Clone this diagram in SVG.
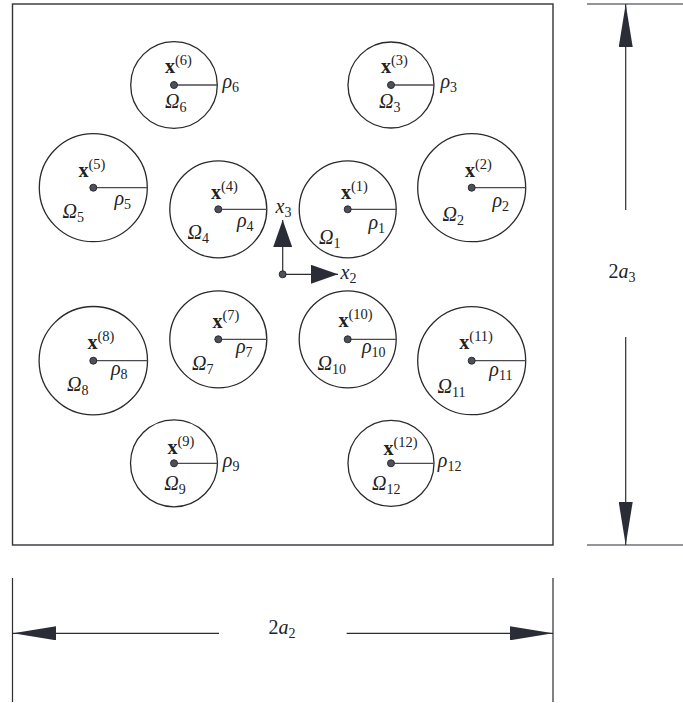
<svg xmlns="http://www.w3.org/2000/svg" width="683" height="703" viewBox="0 0 683 703">
<style>
.c{fill:none;stroke:#2a2a2e;stroke-width:1.3}
.r{stroke:#4a4a50;stroke-width:1.3}
.d{fill:#4d5058;stroke:#2b2d33;stroke-width:1}
.fr{fill:none;stroke:#333338;stroke-width:1.4}
.ln{stroke:#2b2d33;stroke-width:1.2;fill:none}
.t{font-family:"Liberation Serif","DejaVu Serif",serif;font-size:20px;fill:#222}
.i{font-style:italic}
.b{font-weight:bold}
.sp{font-size:14.5px;font-style:normal;font-weight:normal}
.sb{font-size:14px;font-style:normal}
</style>
<defs>
<marker id="ax" markerUnits="userSpaceOnUse" markerWidth="27" markerHeight="19" viewBox="0 0 27 19" refX="27" refY="9.5" orient="auto"><path d="M0,0 L27,9.5 L0,19 Z" fill="#2b2d36"/></marker>
<marker id="dm" markerUnits="userSpaceOnUse" markerWidth="43" markerHeight="14" viewBox="0 0 43 14" refX="43" refY="7" orient="auto"><path d="M0,0 L43,7 L0,14 Z" fill="#2b2d36"/></marker>
</defs>
<rect id="domain" class="fr" x="12.5" y="4" width="540.5" height="541"/>

<g id="n1"><circle class="c" cx="347.7" cy="209.3" r="48.5"/><line class="r" x1="347.7" y1="209.3" x2="396.2" y2="209.3"/><circle class="d" cx="347.7" cy="209.3" r="3.5"/>
<text class="t" x="341" y="199"><tspan class="b">x</tspan><tspan class="sp" dy="-8">(1)</tspan></text>
<text class="t i" x="368.5" y="229">ρ<tspan class="sb" dy="4">1</tspan></text>
<text class="t i" x="319" y="244">Ω<tspan class="sb" dy="4">1</tspan></text></g>

<g id="n2"><circle class="c" cx="471.7" cy="187.7" r="54"/><line class="r" x1="471.7" y1="187.7" x2="525.7" y2="187.7"/><circle class="d" cx="471.7" cy="187.7" r="3.5"/>
<text class="t" x="465" y="176.7"><tspan class="b">x</tspan><tspan class="sp" dy="-8">(2)</tspan></text>
<text class="t i" x="492.5" y="207">ρ<tspan class="sb" dy="4">2</tspan></text>
<text class="t i" x="442.5" y="221">Ω<tspan class="sb" dy="4">2</tspan></text></g>

<g id="n3"><circle class="c" cx="391" cy="85" r="43"/><line class="r" x1="391" y1="85" x2="434" y2="85"/><circle class="d" cx="391" cy="85" r="3.5"/>
<text class="t" x="381" y="72.7"><tspan class="b">x</tspan><tspan class="sp" dy="-8">(3)</tspan></text>
<text class="t i" x="440.5" y="88">ρ<tspan class="sb" dy="4">3</tspan></text>
<text class="t i" x="379" y="108">Ω<tspan class="sb" dy="4">3</tspan></text></g>

<g id="n4"><circle class="c" cx="218.3" cy="209.3" r="48.5"/><line class="r" x1="218.3" y1="209.3" x2="266.8" y2="209.3"/><circle class="d" cx="218.3" cy="209.3" r="3.5"/>
<text class="t" x="211" y="199"><tspan class="b">x</tspan><tspan class="sp" dy="-8">(4)</tspan></text>
<text class="t i" x="237" y="227">ρ<tspan class="sb" dy="4">4</tspan></text>
<text class="t i" x="187.5" y="239">Ω<tspan class="sb" dy="4">4</tspan></text></g>

<g id="n5"><circle class="c" cx="93.3" cy="187.7" r="54"/><line class="r" x1="93.3" y1="187.7" x2="147.3" y2="187.7"/><circle class="d" cx="93.3" cy="187.7" r="3.5"/>
<text class="t" x="78.5" y="176.7"><tspan class="b">x</tspan><tspan class="sp" dy="-8">(5)</tspan></text>
<text class="t i" x="114.5" y="205">ρ<tspan class="sb" dy="4">5</tspan></text>
<text class="t i" x="62.5" y="218">Ω<tspan class="sb" dy="4">5</tspan></text></g>

<g id="n6"><circle class="c" cx="174" cy="85" r="43.3"/><line class="r" x1="174" y1="85" x2="217.3" y2="85"/><circle class="d" cx="174" cy="85" r="3.5"/>
<text class="t" x="165" y="72.7"><tspan class="b">x</tspan><tspan class="sp" dy="-8">(6)</tspan></text>
<text class="t i" x="222.5" y="88">ρ<tspan class="sb" dy="4">6</tspan></text>
<text class="t i" x="165" y="108">Ω<tspan class="sb" dy="4">6</tspan></text></g>

<g id="n7"><circle class="c" cx="218.3" cy="339.3" r="48.5"/><line class="r" x1="218.3" y1="339.3" x2="266.8" y2="339.3"/><circle class="d" cx="218.3" cy="339.3" r="3.5"/>
<text class="t" x="212.5" y="328.3"><tspan class="b">x</tspan><tspan class="sp" dy="-8">(7)</tspan></text>
<text class="t i" x="236" y="353">ρ<tspan class="sb" dy="4">7</tspan></text>
<text class="t i" x="192" y="369.5">Ω<tspan class="sb" dy="4">7</tspan></text></g>

<g id="n8"><circle class="c" cx="93.3" cy="360.7" r="54.2"/><line class="r" x1="93.3" y1="360.7" x2="147.5" y2="360.7"/><circle class="d" cx="93.3" cy="360.7" r="3.5"/>
<text class="t" x="87.5" y="349.3"><tspan class="b">x</tspan><tspan class="sp" dy="-8">(8)</tspan></text>
<text class="t i" x="111" y="375">ρ<tspan class="sb" dy="4">8</tspan></text>
<text class="t i" x="67" y="391">Ω<tspan class="sb" dy="4">8</tspan></text></g>

<g id="n9"><circle class="c" cx="174" cy="463.3" r="43.5"/><line class="r" x1="174" y1="463.3" x2="217.5" y2="463.3"/><circle class="d" cx="174" cy="463.3" r="3.5"/>
<text class="t" x="167.5" y="454.3"><tspan class="b">x</tspan><tspan class="sp" dy="-8">(9)</tspan></text>
<text class="t i" x="222.8" y="467">ρ<tspan class="sb" dy="4">9</tspan></text>
<text class="t i" x="164.3" y="489.5">Ω<tspan class="sb" dy="4">9</tspan></text></g>

<g id="n10"><circle class="c" cx="347.7" cy="339.3" r="48.5"/><line class="r" x1="347.7" y1="339.3" x2="396.2" y2="339.3"/><circle class="d" cx="347.7" cy="339.3" r="3.5"/>
<text class="t" x="338.5" y="326.7"><tspan class="b">x</tspan><tspan class="sp" dy="-8">(10)</tspan></text>
<text class="t i" x="362" y="353">ρ<tspan class="sb" dy="4">10</tspan></text>
<text class="t i" x="317.5" y="369.5">Ω<tspan class="sb" dy="4">10</tspan></text></g>

<g id="n11"><circle class="c" cx="471.7" cy="360.7" r="54"/><line class="r" x1="471.7" y1="360.7" x2="525.7" y2="360.7"/><circle class="d" cx="471.7" cy="360.7" r="3.5"/>
<text class="t" x="459.3" y="349.3"><tspan class="b">x</tspan><tspan class="sp" dy="-8">(11)</tspan></text>
<text class="t i" x="489.3" y="376">ρ<tspan class="sb" dy="4">11</tspan></text>
<text class="t i" x="437.5" y="393">Ω<tspan class="sb" dy="4">11</tspan></text></g>

<g id="n12"><circle class="c" cx="391" cy="463.3" r="43"/><line class="r" x1="391" y1="463.3" x2="434" y2="463.3"/><circle class="d" cx="391" cy="463.3" r="3.5"/>
<text class="t" x="383.5" y="455"><tspan class="b">x</tspan><tspan class="sp" dy="-8">(12)</tspan></text>
<text class="t i" x="437.8" y="467">ρ<tspan class="sb" dy="4">12</tspan></text>
<text class="t i" x="372" y="489.5">Ω<tspan class="sb" dy="4">12</tspan></text></g>

<g id="connectors">
<line class="ln" x1="282.7" y1="274.3" x2="282.7" y2="220" marker-end="url(#ax)"/>
<line class="ln" x1="282.7" y1="274.3" x2="338" y2="274.3" marker-end="url(#ax)"/>
<circle class="d" cx="282.7" cy="274.3" r="3.5"/>
<line class="ln" x1="587" y1="4" x2="683" y2="4"/>
<line class="ln" x1="587" y1="545" x2="683" y2="545"/>
<line class="ln" x1="625.7" y1="210" x2="625.7" y2="4" marker-end="url(#dm)"/>
<line class="ln" x1="625.7" y1="337" x2="625.7" y2="545" marker-end="url(#dm)"/>
<line class="ln" x1="12.5" y1="578" x2="12.5" y2="702"/>
<line class="ln" x1="553" y1="578" x2="553" y2="702"/>
<line class="ln" x1="219" y1="633.3" x2="13" y2="633.3" marker-end="url(#dm)"/>
<line class="ln" x1="346.7" y1="633.3" x2="553" y2="633.3" marker-end="url(#dm)"/>
</g>

<g id="labels">
<text class="t i" x="275.5" y="213">x<tspan class="sb" dy="4">3</tspan></text>
<text class="t i" x="340.5" y="279">x<tspan class="sb" dy="4">2</tspan></text>
<text class="t" x="608.5" y="278">2<tspan class="i">a</tspan><tspan class="sb" dy="4">3</tspan></text>
<text class="t" x="268.5" y="634">2<tspan class="i">a</tspan><tspan class="sb" dy="4">2</tspan></text>
</g>
</svg>
